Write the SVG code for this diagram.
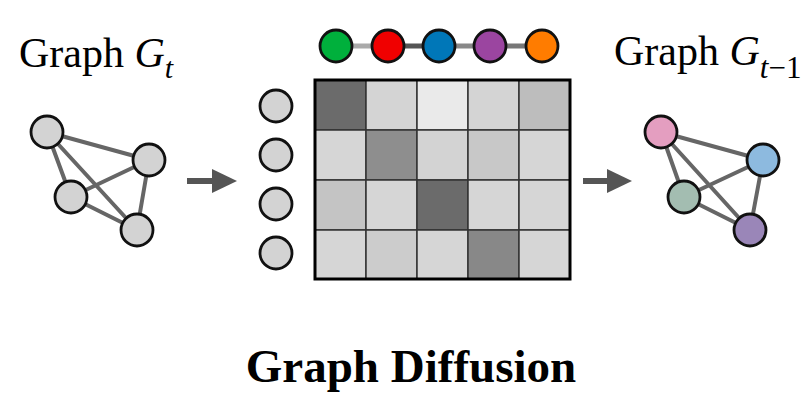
<svg xmlns="http://www.w3.org/2000/svg" width="812" height="395" viewBox="0 0 812 395">
<defs>
<style>
.t{font-family:"Liberation Serif","Times New Roman",serif;fill:#000}
.e{stroke:#666;stroke-width:4;stroke-linecap:round}
.n{stroke:#111;stroke-width:2.8}
.g{fill:#d3d3d3}
.c{stroke:#333;stroke-width:1.5}
.ar{stroke:#555;stroke-width:6}
.ah{fill:#555}
</style>
</defs>
<rect width="812" height="395" fill="#fff"/>
<text class="t" x="19" y="67" font-size="42">Graph <tspan font-style="italic">G</tspan><tspan font-style="italic" font-size="30" dy="11">t</tspan></text>
<text class="t" x="614" y="65" font-size="42">Graph <tspan font-style="italic">G</tspan><tspan font-size="31" dy="13"><tspan font-style="italic">t</tspan>−1</tspan></text>
<text class="t" x="411" y="382" font-size="47" font-weight="bold" text-anchor="middle">Graph Diffusion</text>
<g id="connectors">
<g id="left-edges">
<line class="e" x1="47" y1="132" x2="149" y2="160"/>
<line class="e" x1="47" y1="132" x2="71" y2="197"/>
<line class="e" x1="47" y1="132" x2="137" y2="230"/>
<line class="e" x1="149" y1="160" x2="71" y2="197"/>
<line class="e" x1="149" y1="160" x2="137" y2="230"/>
<line class="e" x1="71" y1="197" x2="137" y2="230"/>
</g>
<g id="right-edges">
<line class="e" x1="661" y1="132" x2="763" y2="160"/>
<line class="e" x1="661" y1="132" x2="684" y2="197"/>
<line class="e" x1="661" y1="132" x2="750" y2="230"/>
<line class="e" x1="763" y1="160" x2="684" y2="197"/>
<line class="e" x1="763" y1="160" x2="750" y2="230"/>
<line class="e" x1="684" y1="197" x2="750" y2="230"/>
</g>
<g id="top-edges" stroke-width="5">
<line x1="336" y1="46" x2="388" y2="46" stroke="#aaa"/>
<line x1="388" y1="46" x2="439" y2="46" stroke="#555"/>
<line x1="439" y1="46" x2="490" y2="46" stroke="#888"/>
<line x1="490" y1="46" x2="542" y2="46" stroke="#777"/>
</g>
<g id="arrow-left">
<line class="ar" x1="187" y1="181" x2="215" y2="181"/>
<polygon class="ah" points="212,169 237,181 212,193"/>
</g>
<g id="arrow-right">
<line class="ar" x1="583" y1="181" x2="610" y2="181"/>
<polygon class="ah" points="607,169 632,181 607,193"/>
</g>
</g>
<g id="left-graph">
<circle id="lA" class="n g" cx="47" cy="132" r="16"/>
<circle id="lB" class="n g" cx="149" cy="160" r="16"/>
<circle id="lC" class="n g" cx="71" cy="197" r="16"/>
<circle id="lD" class="n g" cx="137" cy="230" r="16"/>
</g>
<g id="right-graph">
<circle id="rA" class="n" cx="661" cy="132" r="16" fill="#e49ec0"/>
<circle id="rB" class="n" cx="763" cy="160" r="16" fill="#8dbadf"/>
<circle id="rC" class="n" cx="684" cy="197" r="16" fill="#a3bdb1"/>
<circle id="rD" class="n" cx="750" cy="230" r="16" fill="#9a86b8"/>
</g>
<g id="top-nodes">
<circle id="t1" class="n" cx="336" cy="46" r="16" fill="#00b03c"/>
<circle id="t2" class="n" cx="388" cy="46" r="16" fill="#f00000"/>
<circle id="t3" class="n" cx="439" cy="46" r="16" fill="#0077b8"/>
<circle id="t4" class="n" cx="490" cy="46" r="16" fill="#9b45a0"/>
<circle id="t5" class="n" cx="542" cy="46" r="16" fill="#ff7c00"/>
</g>
<g id="side-nodes">
<circle id="s1" class="n g" cx="276" cy="106" r="16"/>
<circle id="s2" class="n g" cx="276" cy="155" r="16"/>
<circle id="s3" class="n g" cx="276" cy="204" r="16"/>
<circle id="s4" class="n g" cx="276" cy="253" r="16"/>
</g>
<g id="matrix">
<rect class="c" x="315" y="80" width="51" height="50" fill="#6b6b6b"/>
<rect class="c" x="366" y="80" width="51" height="50" fill="#d4d4d4"/>
<rect class="c" x="417" y="80" width="51" height="50" fill="#eaeaea"/>
<rect class="c" x="468" y="80" width="51" height="50" fill="#d4d4d4"/>
<rect class="c" x="519" y="80" width="51" height="50" fill="#bdbdbd"/>
<rect class="c" x="315" y="130" width="51" height="50" fill="#d6d6d6"/>
<rect class="c" x="366" y="130" width="51" height="50" fill="#8e8e8e"/>
<rect class="c" x="417" y="130" width="51" height="50" fill="#d3d3d3"/>
<rect class="c" x="468" y="130" width="51" height="50" fill="#c8c8c8"/>
<rect class="c" x="519" y="130" width="51" height="50" fill="#d6d6d6"/>
<rect class="c" x="315" y="180" width="51" height="50" fill="#c4c4c4"/>
<rect class="c" x="366" y="180" width="51" height="50" fill="#d6d6d6"/>
<rect class="c" x="417" y="180" width="51" height="50" fill="#6b6b6b"/>
<rect class="c" x="468" y="180" width="51" height="50" fill="#d6d6d6"/>
<rect class="c" x="519" y="180" width="51" height="50" fill="#d6d6d6"/>
<rect class="c" x="315" y="230" width="51" height="49" fill="#d6d6d6"/>
<rect class="c" x="366" y="230" width="51" height="49" fill="#cccccc"/>
<rect class="c" x="417" y="230" width="51" height="49" fill="#d6d6d6"/>
<rect class="c" x="468" y="230" width="51" height="49" fill="#888888"/>
<rect class="c" x="519" y="230" width="51" height="49" fill="#d6d6d6"/>
<rect x="315" y="80" width="255" height="199" fill="none" stroke="#000" stroke-width="3"/>
</g>
</svg>
